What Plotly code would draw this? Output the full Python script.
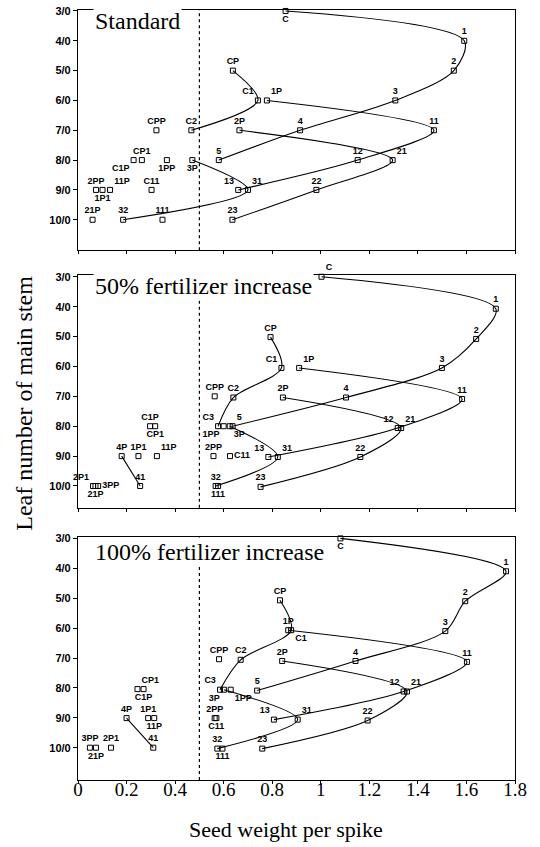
import plotly.graph_objects as go

# tick labels
x_ticks = [0, 0.2, 0.4, 0.6, 0.8, 1.0, 1.2, 1.4, 1.6, 1.8]
x_tick_text = ["0", "0.2", "0.4", "0.6", "0.8", "1", "1.2", "1.4", "1.6", "1.8"]
leaf_ticks = [3, 4, 5, 6, 7, 8, 9, 10]
leaf_tick_text = ["3/0", "4/0", "5/0", "6/0", "7/0", "8/0", "9/0", "10/0"]
threshold = 0.5

# panel 1: standard
labels1 = ["C", "1", "2", "3", "4", "5", "CP", "C1", "C2", "1P", "11", "12", "13",
           "2P", "21", "22", "23", "3P", "31", "32", "CPP", "CP1", "C1P", "1PP",
           "C11", "2PP", "1P1", "11P", "21P", "111"]
weight1 = [0.855, 1.591, 1.548, 1.307, 0.915, 0.580, 0.638, 0.741, 0.467, 0.778, 1.466, 1.152, 0.660,
           0.665, 1.296, 0.982, 0.636, 0.471, 0.700, 0.186, 0.323, 0.263, 0.229, 0.366,
           0.303, 0.074, 0.101, 0.132, 0.060, 0.348]
leaf1 = [3, 4, 5, 6, 7, 8, 5, 6, 7, 6, 7, 8, 9,
         7, 8, 9, 10, 8, 9, 10, 7, 8, 8, 8,
         9, 9, 9, 9, 10, 10]
series1 = [["C", "1", "2", "3", "4", "5"], ["CP", "C1", "C2"], ["1P", "11", "12", "13"],
           ["2P", "21", "22", "23"], ["3P", "31", "32"]]

# panel 2: 50% fertilizer increase
labels2 = ["C", "1", "2", "3", "4", "5", "CP", "C1", "C2", "C3", "1P", "11", "12", "13",
           "2P", "21", "22", "23", "3P", "31", "32", "4P", "41", "CPP", "1PP", "C1P", "CP1",
           "C11", "2PP", "1P1", "11P", "2P1", "21P", "3PP", "111"]
weight2 = [1.003, 1.721, 1.640, 1.499, 1.104, 0.637, 0.793, 0.838, 0.640, 0.577, 0.911, 1.582, 1.317, 0.784,
           0.844, 1.331, 1.163, 0.752, 0.625, 0.823, 0.567, 0.180, 0.256, 0.563, 0.600, 0.297, 0.318,
           0.626, 0.558, 0.249, 0.325, 0.062, 0.072, 0.083, 0.577]
leaf2 = [3, 4.07, 5.08, 6.05, 7.04, 8.0, 5.02, 6.05, 7.04, 8.0, 6.05, 7.09, 8.06, 9.03,
         7.04, 8.06, 9.03, 10.03, 8.0, 9.03, 10.0, 9.0, 10.0, 7.0, 8.0, 8.0, 8.0,
         9.0, 9.0, 9.0, 9.0, 10.0, 10.0, 10.0, 10.0]
series2 = [["C", "1", "2", "3", "4", "5"], ["CP", "C1", "C2", "C3"], ["1P", "11", "12", "13"],
           ["2P", "21", "22", "23"], ["3P", "31", "32"], ["4P", "41"]]

# panel 3: 100% fertilizer increase
labels3 = ["C", "1", "2", "3", "4", "5", "CP", "C1", "C2", "C3", "1P", "11", "12", "13",
           "2P", "21", "22", "23", "3P", "31", "32", "4P", "41", "CPP", "1PP", "CP1", "C1P",
           "2PP", "C11", "1P1", "11P", "3PP", "21P", "2P1", "111"]
weight3 = [1.081, 1.763, 1.595, 1.513, 1.143, 0.738, 0.832, 0.878, 0.670, 0.585, 0.866, 1.602, 1.341, 0.807,
           0.841, 1.355, 1.193, 0.759, 0.601, 0.905, 0.574, 0.200, 0.310, 0.581, 0.629, 0.245, 0.270,
           0.563, 0.570, 0.289, 0.314, 0.049, 0.074, 0.136, 0.595]
leaf3 = [3, 4.1, 5.1, 6.1, 7.1, 8.09, 5.07, 6.07, 7.06, 8.06, 6.07, 7.13, 8.12, 9.06,
         7.1, 8.12, 9.09, 10.03, 8.06, 9.06, 10.03, 9.01, 10.0, 7.04, 8.06, 8.04, 8.04,
         9.01, 9.01, 9.01, 9.01, 10.0, 10.0, 10.0, 10.03]
series3 = series2

titles = ["Standard", "50% fertilizer increase", "100% fertilizer increase"]

# where each point label sits (default: above the box)
label_pos = [
    {"C": "bottom center", "1P1": "bottom center", "C1P": "bottom left", "1PP": "bottom center",
     "3P": "bottom center", "13": "top left", "31": "top right", "21": "top right", "11P": "top right",
     "C1": "top left", "1P": "top right"},
    {"C": "top right", "1PP": "bottom left", "3P": "bottom right", "CP1": "bottom center",
     "21P": "bottom center", "3PP": "middle right", "111": "bottom center", "C3": "top left",
     "5": "top right", "13": "top left", "31": "top right", "12": "top left", "21": "top right",
     "11P": "top right", "C11": "middle right", "C1": "top left", "1P": "top right", "2P1": "top left"},
    {"C": "bottom center", "C1": "bottom right", "3P": "bottom left", "1PP": "bottom right",
     "C3": "top left", "CP1": "top right", "C1P": "bottom center", "11P": "bottom center",
     "C11": "bottom center", "21P": "bottom center", "111": "bottom center", "12": "top left",
     "21": "top right", "13": "top left", "31": "top right"},
]

panels = [(labels1, weight1, leaf1, series1),
          (labels2, weight2, leaf2, series2),
          (labels3, weight3, leaf3, series3)]

y_ranges = [[11.02, 2.967], [10.73, 2.95], [11.08, 2.94]]
domains = [[0.6881, 1.0], [0.3535, 0.6555], [0.0, 0.3161]]
title_leaf = [3.33, 3.30, 3.46]

serif = "Liberation Serif"
sans = "Liberation Sans"

fig = go.Figure()

for i, (labels, xs, ys, series) in enumerate(panels):
    n = "" if i == 0 else str(i + 1)
    lookup = dict(zip(labels, zip(xs, ys)))

    for chain in series:
        fig.add_trace(go.Scatter(
            x=[lookup[k][0] for k in chain], y=[lookup[k][1] for k in chain],
            mode="lines", line=dict(color="black", width=1.1, shape="spline", smoothing=0.9),
            xaxis="x" + n, yaxis="y" + n, showlegend=False, hoverinfo="skip"))

    fig.add_trace(go.Scatter(
        x=xs, y=ys, text=labels, mode="markers+text", cliponaxis=False,
        textposition=[label_pos[i].get(k, "top center") for k in labels],
        textfont=dict(family=sans, size=9, color="black", weight="bold"),
        marker=dict(symbol="square-open", size=5, color="black", line=dict(width=1)),
        xaxis="x" + n, yaxis="y" + n, showlegend=False))

    fig.add_shape(type="line", xref="x" + n, yref="y" + n + " domain",
                  x0=threshold, x1=threshold, y0=0, y1=1,
                  line=dict(color="black", width=1.2, dash="dot"))

    fig.add_annotation(text=titles[i], xref="x" + n, yref="y" + n, x=0.06, y=title_leaf[i],
                       xanchor="left", yanchor="middle", showarrow=False, bgcolor="white",
                       font=dict(family=serif, size=24, color="black"))

    fig.layout["xaxis" + n] = dict(
        domain=[0, 1], range=[0, 1.8], anchor="y" + n,
        tickvals=x_ticks, ticktext=x_tick_text, showticklabels=(i == 2),
        ticks="outside", ticklen=3, tickcolor="black", ticklabelstandoff=-11,
        showline=True, linecolor="black", linewidth=1.2, mirror=True,
        showgrid=False, zeroline=False,
        tickfont=dict(family=serif, size=19, color="black"))
    fig.layout["yaxis" + n] = dict(
        domain=domains[i], range=y_ranges[i], anchor="x" + n,
        tickvals=leaf_ticks, ticktext=leaf_tick_text,
        ticks="outside", ticklen=4, tickcolor="black",
        showline=True, linecolor="black", linewidth=1.2, mirror=True,
        showgrid=False, zeroline=False,
        tickfont=dict(family=sans, size=11, color="black", weight="bold"))

fig.add_annotation(text="Leaf number of main stem", xref="paper", yref="paper",
                   x=-0.123, y=0.489, textangle=-90, showarrow=False,
                   xanchor="center", yanchor="middle",
                   font=dict(family=serif, size=24, color="black"))
fig.add_annotation(text="Seed weight per spike", xref="paper", yref="paper",
                   x=0.475, y=-0.064, showarrow=False, xanchor="center", yanchor="middle",
                   font=dict(family=serif, size=22, color="black"))

fig.update_layout(width=540, height=847, margin=dict(l=78, r=25, t=5, b=67),
                  plot_bgcolor="white", paper_bgcolor="white")

# the page body has a default 8px margin; drop it so the figure sits at the window corner
fig.write_html("out.html", config={"displayModeBar": False},
               post_script="document.body.style.margin='0';")
